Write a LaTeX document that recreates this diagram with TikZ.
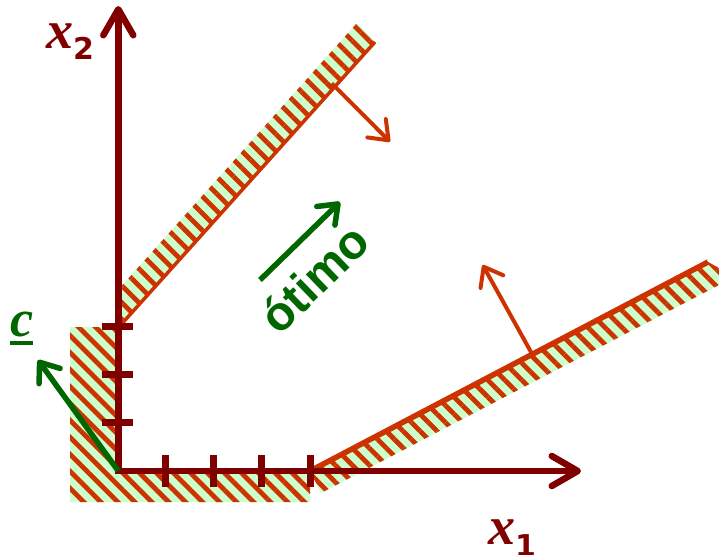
\documentclass[tikz,border=0pt]{standalone}
\usepackage{fontspec}
\setmainfont{Liberation Serif}
\newfontfamily\sansfam{Liberation Sans}
\newfontfamily\subfam{DejaVu Sans}
\usetikzlibrary{arrows.meta,patterns.meta}
\definecolor{axred}{HTML}{800000}
\definecolor{edgeorange}{HTML}{CC3300}
\definecolor{dkgreen}{HTML}{006600}
\definecolor{paleg}{HTML}{CCFFCC}
\begin{document}
\begin{tikzpicture}[x=1pt,y=-1pt,
  hatch/.style={preaction={fill=paleg},
    pattern={Lines[angle=-45,distance=12pt,line width=4.8pt]},
    pattern color=edgeorange},
  axisline/.style={draw=axred, line width=6.5pt,
    -{Straight Barb[length=26pt,width=30pt,round]}},
  tickmark/.style={draw=axred, line width=7pt},
  normalarrow/.style={draw=edgeorange, line width=4pt,
    -{Straight Barb[length=17pt,width=26pt,round]}},
  greenarrow/.style={draw=dkgreen, line width=5.5pt,
    -{Straight Barb[length=17pt,width=26pt,round]}},
  lbl/.style={inner sep=0pt, anchor=base west}]
\useasboundingbox (0,0) rectangle (719,554);

% hatched feasible-region borders
\path[hatch] (70,327) -- (118,327) -- (118,471) -- (310,471) -- (310,502) -- (70,502) -- cycle;
\path[hatch] (118,328) -- (375,42) -- (357,23) -- (118,290) -- cycle;
\path[hatch] (310,471) -- (708,262) -- (719,268) -- (719,285) -- (321,493) -- cycle;

% constraint lines
\coordinate (a0) at (118,328);
\coordinate (a1) at (375,42);
\coordinate (b0) at (310,471);
\coordinate (b1) at (708,262);
\draw[edgeorange, line width=3.5pt] (a0) -- (a1);
\draw[edgeorange, line width=5.5pt] (b0) -- (b1);

% axes
\coordinate (o) at (118.3,471);
\coordinate (xend) at (581,471);
\coordinate (yend) at (118.3,6);
\draw[axisline] ([xshift=-3.25pt]o) -- (xend);
\draw[axisline] ([yshift=-3.25pt]o) -- (yend);

% ticks
\foreach \tx in {165.7,213.7,261.7,310}
  \draw[tickmark] (\tx,455) -- (\tx,487);
\foreach \ty in {326.7,374.3,422.3}
  \draw[tickmark] (101.7,\ty) -- (133.3,\ty);

% normal arrows
\coordinate (n1s) at (331.7,83.3);
\coordinate (n1e) at (390,141.7);
\coordinate (n2s) at (531.7,353.3);
\coordinate (n2e) at (482.7,265);
\draw[normalarrow] (n1s) -- (n1e);
\draw[normalarrow] (n2s) -- (n2e);

% objective direction
\coordinate (ce) at (38,360);
\draw[greenarrow] (o) -- (ce);
\coordinate (gs) at (260,280);
\coordinate (ge) at (340,202);
\draw[greenarrow] (gs) -- (ge);

% labels
\node[lbl, text=axred] (x2) at (46,48)
  {\fontsize{54}{54}\selectfont\bfseries\itshape x\kern0pt\raisebox{-11pt}{\subfam\bfseries\upshape\fontsize{30}{30}\selectfont 2}};
\node[lbl, text=axred] (x1) at (488,544)
  {\fontsize{54}{54}\selectfont\bfseries\itshape x\kern0pt\raisebox{-12pt}{\subfam\bfseries\upshape\fontsize{30}{30}\selectfont 1}};
\node[lbl, text=dkgreen] (c) at (10,336)
  {\fontsize{52}{52}\selectfont\bfseries\itshape c};
\draw[dkgreen, line width=4pt] ([yshift=-7pt]c.base west) -- ([yshift=-7pt]c.base east);
\node[rotate=44, anchor=base, inner sep=0pt, text=dkgreen,
  font=\sansfam\bfseries\fontsize{48}{48}\selectfont] (otimo) at (326,291) {ótimo};
\end{tikzpicture}
\end{document}
